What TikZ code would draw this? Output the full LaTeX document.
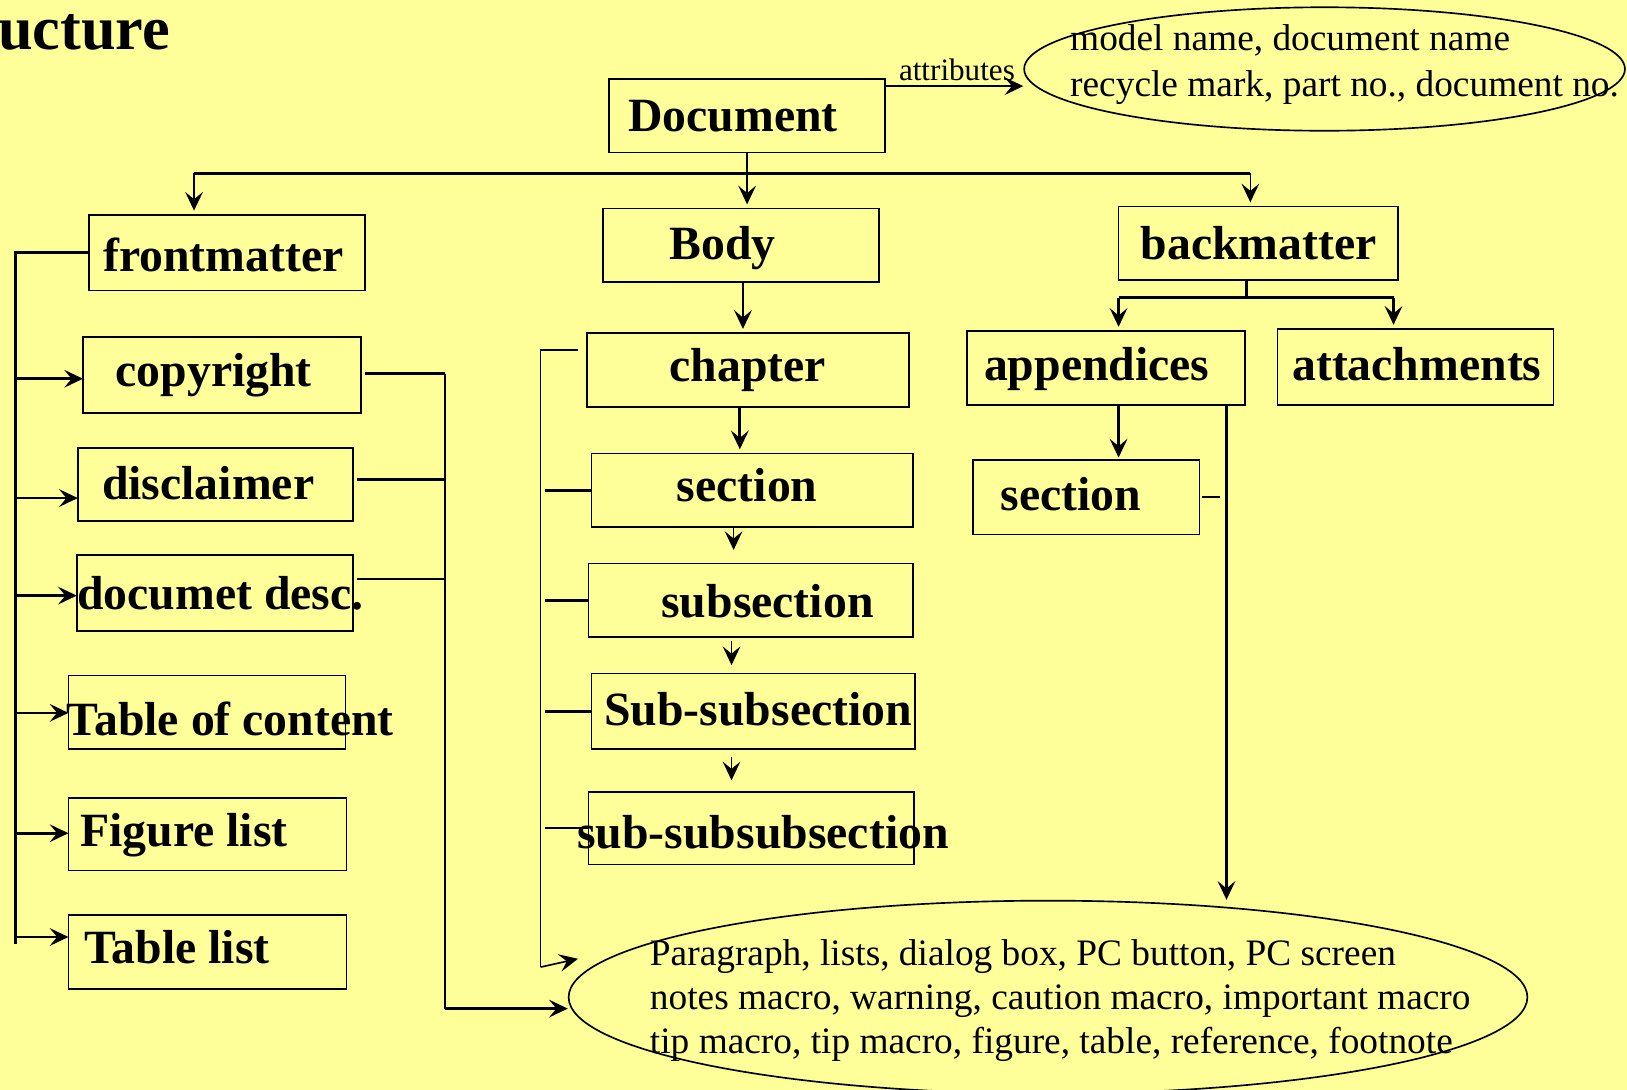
\documentclass[tikz,border=0pt]{standalone}
\usepackage{fontspec}
\setmainfont{Liberation Serif}
\usetikzlibrary{arrows.meta,shapes.geometric}
\definecolor{slideyellow}{HTML}{FFFF99}

\begin{document}
\begin{tikzpicture}[x=0.5pt, y=-0.5pt,
	box/.style={draw, line width=0.8pt, inner sep=0pt, outer sep=0pt, anchor=north west},
	lbl/.style={anchor=base west, inner sep=0pt, font=\fontsize{23}{27.6}\selectfont\bfseries},
	txt/.style={anchor=base west, inner sep=0pt, font=\fontsize{18}{21.6}\selectfont},
	oval/.style={draw, ellipse, line width=0.8pt, inner sep=0pt},
	link/.style={line width=1.3pt},
	thinlink/.style={line width=0.8pt},
	arr/.style={-{Stealth[length=9pt, width=8.5pt, inset=3.5pt]}}]
	\fill[slideyellow] (0,0) rectangle (1568,1050);
	\useasboundingbox (0,0) rectangle (1568,1050);

	\node[anchor=base west, inner sep=0pt, font=\fontsize{30}{36}\selectfont\bfseries] (title) at (-2,48) {ucture};

	% boxes: name / left / top / right / bottom / text x / text baseline / text
	\foreach \nm/\xa/\ya/\xb/\yb/\tx/\ty/\txt in {
		doc/587/76/853/147/605/127/Document,
		fm/86/207/352/280/99/262/frontmatter,
		body/581/201/847/272/645/250/Body,
		back/1078/199/1347/270/1099/250/backmatter,
		copy/80/325/348/398/111/372/copyright,
		discl/75/432/340/502/98/481/disclaimer,
		desc/74/535/340/608/74/587/documet desc.,
		toc/66/651/333/722/64/709/Table of content,
		figs/66/769/334/839/77/816/Figure list,
		tabs/66/882/334/953/81/929/Table list,
		chap/566/321/876/392/645/368/chapter,
		sec/570/437/880/508/652/483/section,
		subsec/567/543/880/614/637/595/subsection,
		subsub/570/649/882/722/582/699/Sub-subsection,
		subsubsub/567/763/881/833/556/818/sub-subsubsection,
		app/932/319/1200/390/948/367/appendices,
		att/1231/317/1497/390/1245/367/attachments,
		asec/938/443/1156/515/964/492/section} {
		\pgfmathsetmacro{\bw}{(\xb-\xa)/2}
		\pgfmathsetmacro{\bh}{(\yb-\ya)/2}
		\node[box, minimum width=\bw pt, minimum height=\bh pt] (\nm) at (\xa,\ya) {};
		\node[lbl] (\nm-t) at (\tx,\ty) {\txt};
	}

	% ellipses
	\node[oval, minimum width=289.5pt, minimum height=59.5pt] (attr) at (1276.5,66.5) {};
	\node[txt] (attr-1) at (1031,49) {model name, document name};
	\node[txt] (attr-2) at (1031,93) {recycle mark, part no., document no.};
	\node[oval, minimum width=462pt, minimum height=93pt] (inner) at (1010,961) {};
	\foreach \i/\yy/\ln in {1/930/{Paragraph, lists, dialog box, PC button, PC screen},
		2/973/{notes macro, warning, caution macro, important macro},
		3/1015/{tip macro, tip macro, figure, table, reference, footnote}} {
		\node[txt] (inner-\i) at (626,\yy) {\ln};
	}

	% document level
	\draw[link, arr] (doc.east |- 0,83) -- (attr.west |- 0,83);
	\node[anchor=base west, inner sep=0pt, font=\fontsize{15}{18}\selectfont] (attr-lbl) at (866,78) {attributes};
	\coordinate (barL) at (187,167);
	\coordinate (barR) at (1205,167);
	\draw[link] (barL) -- (barR);
	\draw[link, arr, shorten >=2pt] (doc.south) -- (doc.south |- body.north);
	\draw[thinlink, arr, shorten >=2pt] (barL) -- (barL |- fm.north);
	\draw[thinlink, arr, shorten >=2pt] (barR) -- (barR |- back.north);

	% frontmatter
	\coordinate (fmB) at (15,910);
	\draw[link] (fm.west) -| (fmB);
	\foreach \nm/\yy in {copy/365, discl/480, desc/574, toc/687, figs/803, tabs/903}
		\draw[link, arr] (15,\yy) -- (\nm.west |- 15,\yy);
	\coordinate (railT) at (429,360);
	\coordinate (railB) at (429,972);
	\foreach \nm/\yy in {copy/360, discl/462, desc/558}
		\draw[link] ([xshift=2pt]\nm.east |- 0,\yy) -- (railT |- 0,\yy);
	\draw[link] (railT) -- (railB);
	\draw[link, arr] (railB) -- (railB -| inner.west);

	% body
	\draw[link, arr, shorten >=2pt] (body.south -| 716,0) -- (chap.north -| 716,0);
	\draw[link, arr, shorten >=2pt] (chap.south -| 713,0) -- (sec.north -| 713,0);
	\draw[thinlink, arr, shorten >=6.5pt] (sec.south -| 707,0) -- (subsec.north -| 707,0);
	\draw[thinlink, arr, shorten <=2pt, shorten >=4pt] (subsec.south -| 705,0) -- (subsub.north -| 705,0);
	\draw[thinlink, arr, shorten <=4pt, shorten >=5.5pt] (subsub.south -| 705,0) -- (subsubsub.north -| 705,0);
	\coordinate (brT) at (521,337);
	\coordinate (brB) at (521,932);
	\coordinate (bodyIn) at (557,924);
	\draw[thinlink, shorten <=4.5pt] (chap.west |- brT) -- (brT) -- (brB);
	\draw[thinlink, arr] (brB) -- (bodyIn);
	\foreach \nm in {sec, subsec, subsub, subsubsub}
		\draw[link, shorten <=2pt] (\nm.west -| brT) -- (\nm.west);

	% backmatter
	\coordinate (bmJ) at (1201,287);
	\coordinate (bmL) at (1078,287);
	\coordinate (bmR) at (1343,287);
	\draw[link] (bmJ |- back.south) -- (bmJ);
	\draw[link] (bmL) -- (bmR);
	\draw[link, arr, shorten >=2pt] (bmL) -- (bmL |- app.north);
	\draw[link, arr, shorten >=2pt] (bmR) -- (bmR |- att.north);
	\draw[link, arr, shorten >=1pt] (app.south -| bmL) -- (asec.north -| bmL);
	\coordinate (apTop) at (1182,390);
	\draw[link, arr] (apTop) -- (apTop |- inner.north);
	\draw[thinlink, shorten <=1pt, shorten >=3pt] (asec.east) -- (asec.east -| apTop);
\end{tikzpicture}
\end{document}
